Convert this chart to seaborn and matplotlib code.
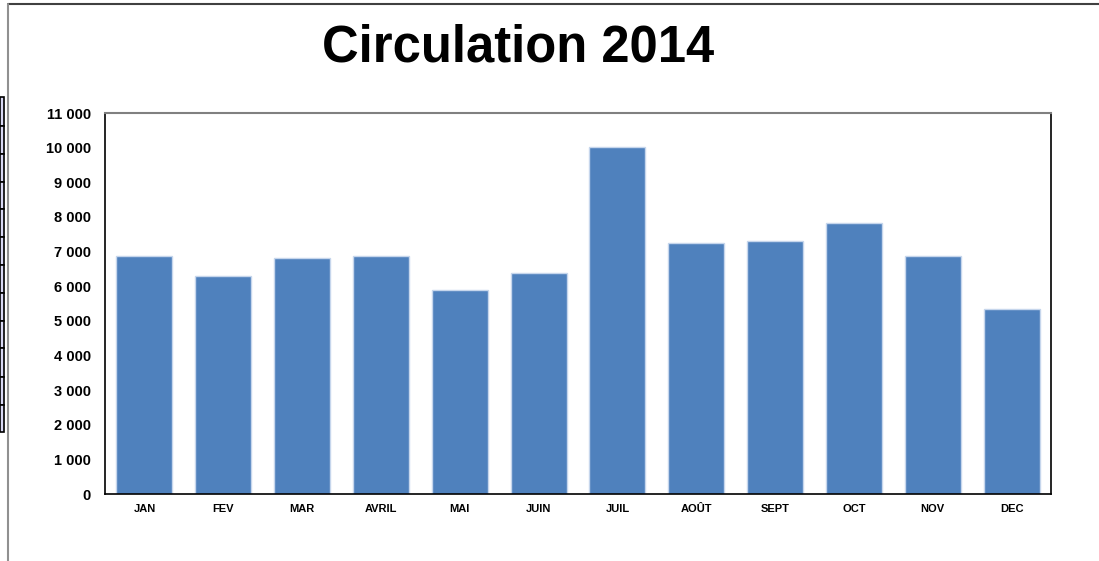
import matplotlib
matplotlib.use("Agg")
import matplotlib.pyplot as plt
import matplotlib.ticker as mticker
from matplotlib.patches import Rectangle
from matplotlib.lines import Line2D
import numpy as np
import pandas as pd
import seaborn as sns

# monthly circulation
months = ["JAN", "FEV", "MAR", "AVRIL", "MAI", "JUIN", "JUIL", "AOÛT", "SEPT", "OCT", "NOV", "DEC"]
circulation = [6880, 6280, 6810, 6880, 5900, 6370, 10030, 7260, 7300, 7830, 6870, 5340]
y_ticks = list(range(0, 11001, 1000))

sns.set_theme(style="white")
plt.rcParams["font.family"] = ["Liberation Sans", "DejaVu Sans"]

df = pd.DataFrame({"mois": months, "circulation": circulation})

fig = plt.figure(figsize=(10.99, 5.61), dpi=100)
ax = fig.add_axes([105 / 1099, 67 / 561, 946 / 1099, 381 / 561])

sns.barplot(data=df, x="mois", y="circulation", color="#4F81BD", saturation=1,
            width=0.71, edgecolor="#C6D6EC", linewidth=1, ax=ax)

ax.set_ylim(0, 11000)
ax.set_xlim(-0.5, len(months) - 0.5)
ax.set_yticks(y_ticks)
ax.yaxis.set_major_formatter(mticker.FuncFormatter(lambda v, p: f"{int(v):,}".replace(",", " ")))
ax.set_xlabel("")
ax.set_ylabel("")

# x ticks sit between categories
ax.set_xticks(np.arange(-0.5, len(months), 1.0), minor=True)
ax.tick_params(axis="x", which="major", length=0, pad=7, labelsize=8)
ax.tick_params(axis="x", which="minor", length=4, width=1, color="black", direction="out")
ax.tick_params(axis="y", length=5, width=1, color="black", direction="out", pad=5, labelsize=10.5)
for lab in ax.get_xticklabels() + ax.get_yticklabels():
    lab.set_fontweight("bold")
    lab.set_color("black")

for side in ["left", "bottom", "right"]:
    ax.spines[side].set_color("black")
    ax.spines[side].set_linewidth(1.2)
ax.spines["top"].set_color("#808080")
ax.spines["top"].set_linewidth(1.5)

fig.text(518 / 1099, 1 - 48 / 561, "Circulation 2014", ha="center", va="center",
         fontsize=36.5, fontweight="bold", color="black")

# spreadsheet frame remnants
fig.add_artist(Line2D([8 / 1099, 1], [1 - 4 / 561, 1 - 4 / 561], color="#404040", lw=1.5))
fig.add_artist(Line2D([8 / 1099, 8 / 1099], [0, 1 - 4 / 561], color="#909090", lw=1.5))
cell_edges = [97, 126, 154, 182, 209, 237, 265, 293, 321, 348, 377, 405, 432]
for top, bot in zip(cell_edges[:-1], cell_edges[1:]):
    fig.add_artist(Rectangle((0, 1 - bot / 561), 4 / 1099, (bot - top) / 561,
                             transform=fig.transFigure, facecolor="#D8D8F4",
                             edgecolor="black", lw=1.2))

fig.savefig("out.png", dpi=100)
